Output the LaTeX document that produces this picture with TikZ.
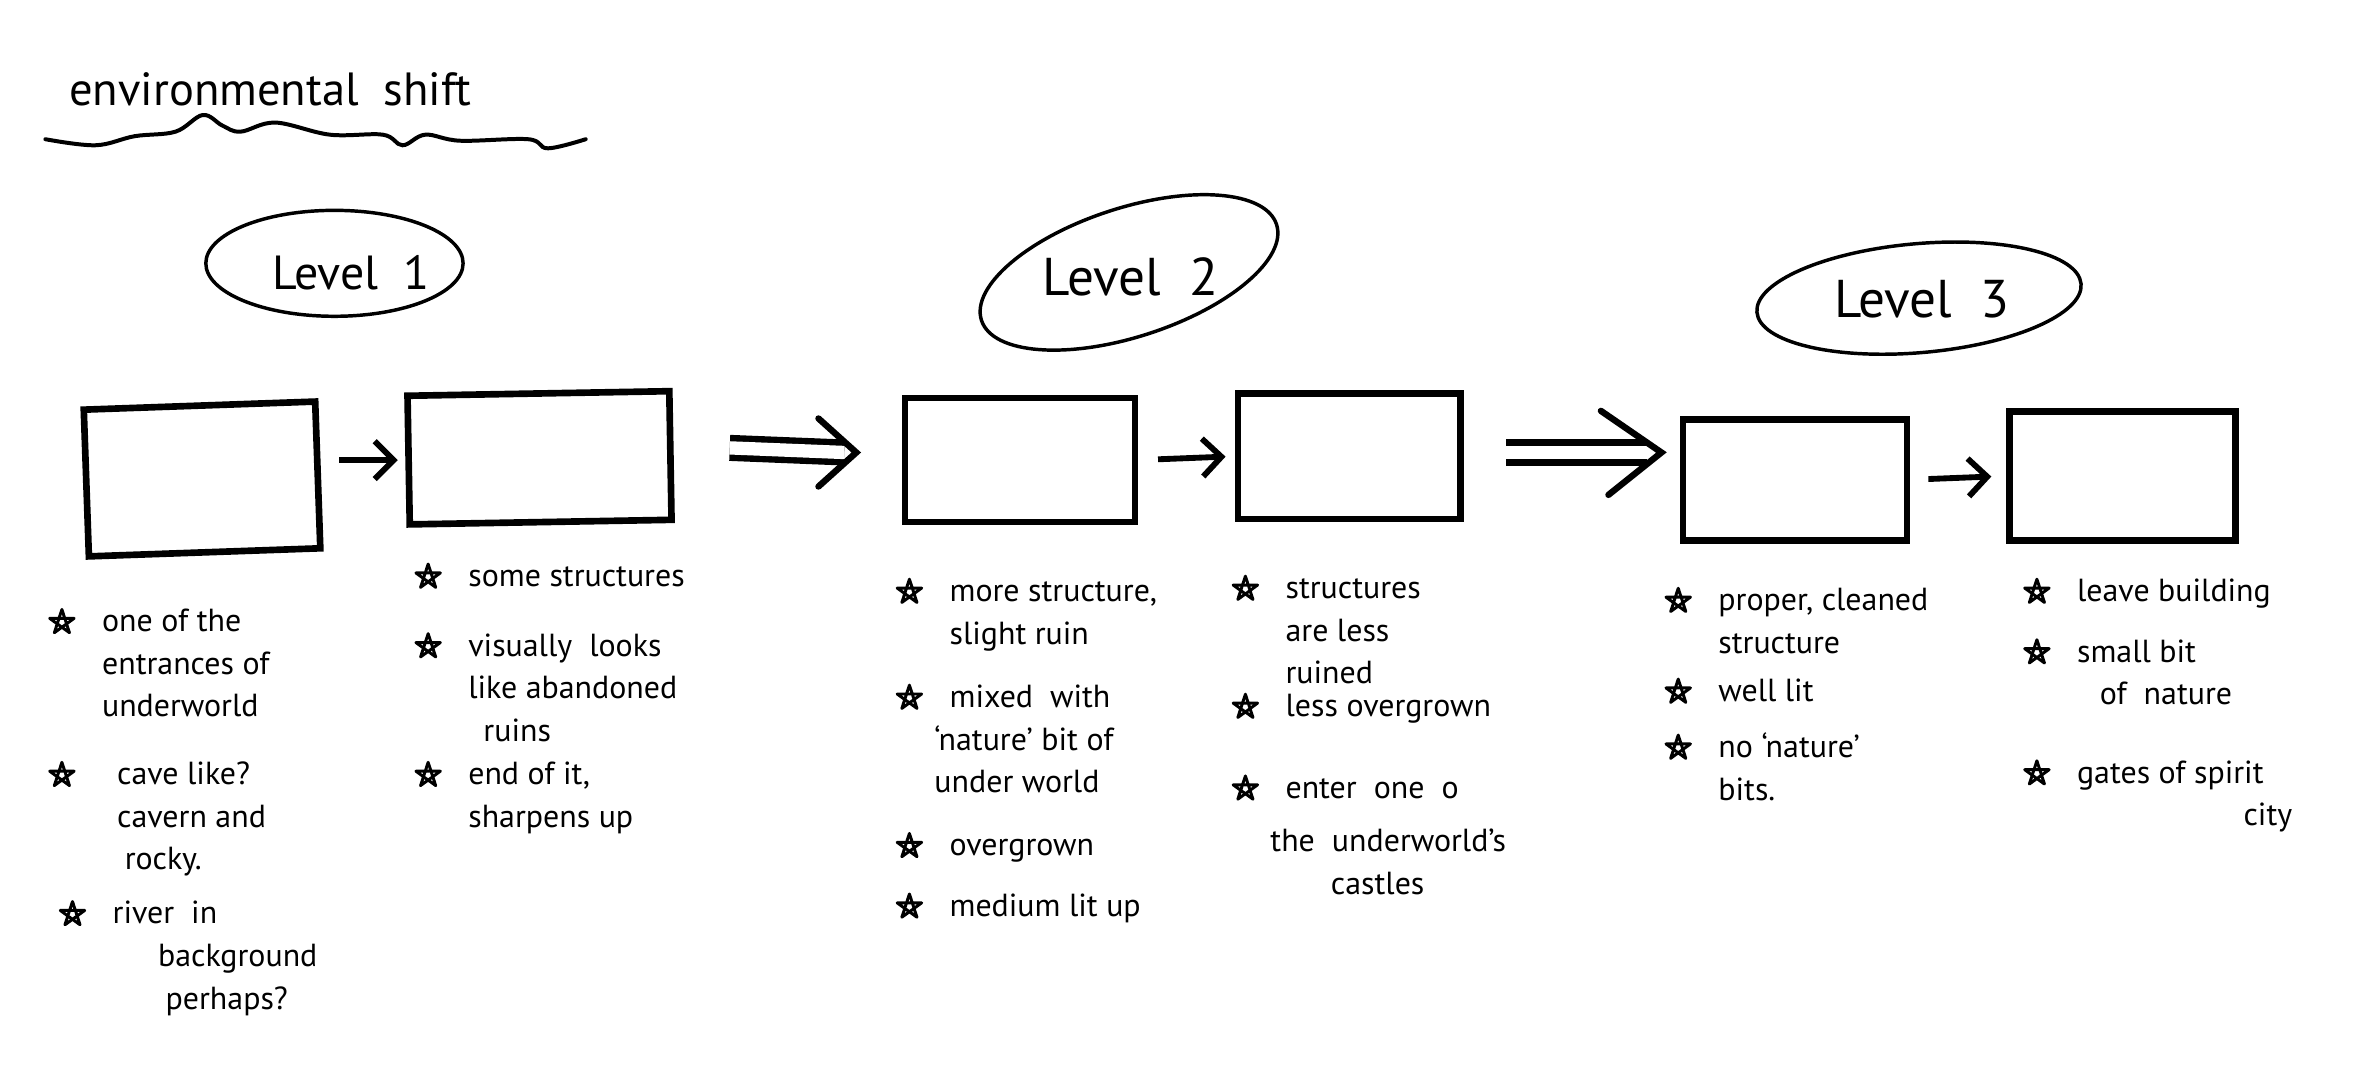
\documentclass[tikz,border=0pt]{standalone}
\usepackage{fontspec}
\setmainfont{PT Sans}
\usetikzlibrary{arrows.meta, calc}
\newcommand{\bul}{\tikz[baseline=-0.6ex]\draw[line width=1.1pt, line join=round] (90:1.7mm) -- (234:1.7mm) -- (18:1.7mm) -- (162:1.7mm) -- (306:1.7mm) -- cycle;}
\newcommand{\ind}[1]{\hspace*{#1}}

\tikzset{
  frame/.style={draw, line width=2.5pt, rectangle, inner sep=0pt},
  bubble/.style={line width=1.3pt},
  lvl/.style={font=\fontsize{20}{24}\selectfont},
  note/.style={anchor=north west, inner sep=0pt, font=\fontsize{12}{16}\selectfont},
  go/.style={line width=2.2pt, -{Straight Barb[length=2.5mm, width=5mm]}},
  rail/.style={double, double distance=5pt, line width=2.4pt},
  chev/.style={line width=2.4pt, line cap=round, line join=miter}
}

\begin{document}
\begin{tikzpicture}
    \useasboundingbox (0,0) rectangle (31.36,-14.088);

    % title
    \node[font=\fontsize{17.5}{21}\selectfont] (title) at (3.57,-1.18) {environmental\ \ shift};
    \draw[line width=1.5pt, line cap=round] plot[smooth, tension=0.6] coordinates {(0.6,-1.84) (1.26,-1.92) (1.78,-1.8) (2.32,-1.74) (2.68,-1.52) (2.94,-1.66) (3.18,-1.74) (3.64,-1.62) (4.36,-1.78) (5.06,-1.78) (5.32,-1.92) (5.62,-1.78) (6.08,-1.86) (6.98,-1.84) (7.24,-1.96) (7.74,-1.84)};

    % levels
    \node[lvl, font=\fontsize{18}{22}\selectfont] (lvlone) at (4.64,-3.6) {Level\ \ 1};
    \draw[bubble] (4.42,-3.48) ellipse [x radius=1.7, y radius=0.7];
    \node[lvl] (lvltwo) at (14.94,-3.66) {Level\ \ 2};
    \draw[bubble, rotate around={18:(14.92,-3.6)}] (14.92,-3.6) ellipse [x radius=2.05, y radius=0.85];
    \node[lvl] (lvlthree) at (25.4,-3.96) {Level\ \ 3};
    \draw[bubble, rotate around={5:(25.36,-3.94)}] (25.36,-3.94) ellipse [x radius=2.15, y radius=0.72];

    % boxes
    \node[frame, minimum width=3.06cm, minimum height=1.94cm, rotate=2] (b1) at (2.67,-6.33) {};
    \node[frame, minimum width=3.46cm, minimum height=1.7cm, rotate=1] (b2) at (7.13,-6.05) {};
    \node[frame, minimum width=3.04cm, minimum height=1.64cm] (b3) at (13.48,-6.08) {};
    \node[frame, minimum width=2.94cm, minimum height=1.66cm] (b4) at (17.83,-6.03) {};
    \node[frame, minimum width=2.96cm, minimum height=1.6cm] (b5) at (23.72,-6.34) {};
    \node[frame, minimum width=2.98cm, minimum height=1.7cm] (b6) at (28.05,-6.29) {};

    % arrows
    \draw[go, shorten <=0.24cm, shorten >=0.1cm] (b1.east |- b2.west) -- (b2.west);
    \draw[go, shorten <=0.26cm, shorten >=0.12cm] (b3.east) -- (b4.west);
    \draw[go, shorten <=0.24cm, shorten >=0.2cm] (b5.east) -- (b6.west);

    % double arrows between levels
    \coordinate (t23) at ($(b3.west)+(-0.6,0.1)$);
    \draw[rail] ($(b2.east)+(0.74,0.1)$) -- ([xshift=-1.6mm]t23);
    \draw[chev] ([shift={(-5mm,4.5mm)}]t23) -- (t23) -- ([shift={(-5mm,-4.5mm)}]t23);
    \coordinate (t45) at ($(b4.east -| b5.west)+(-0.24,0.05)$);
    \draw[rail] ($(b4.east)+(0.56,0.05)$) -- ([xshift=-1.9mm]t45);
    \draw[chev] ([shift={(-8mm,5.5mm)}]t45) -- (t45) -- ([shift={(-7mm,-5.6mm)}]t45);

    % notes, level 1
    \node[note] (n1a) at (0.63,-7.95) {\begin{tabular}{@{}l@{\hspace{3.5mm}}l@{}}\bul & one of the\\ & entrances of\\ & underworld\end{tabular}};
    \node[note] (n1b) at (0.63,-9.97) {\begin{tabular}{@{}l@{\hspace{3.5mm}}l@{}}\bul & \ind{2mm}cave like?\\ & \ind{2mm}cavern and\\ & \ind{3mm}rocky.\end{tabular}};
    \node[note] (n1c) at (0.77,-11.81) {\begin{tabular}{@{}l@{\hspace{3.5mm}}l@{}}\bul & river\ \ in\\ & \ind{6mm}background\\ & \ind{7mm}perhaps?\end{tabular}};
    \node[note] (n2a) at (5.47,-7.35) {\begin{tabular}{@{}l@{\hspace{3.5mm}}l@{}}\bul & some structures\end{tabular}};
    \node[note] (n2b) at (5.47,-8.27) {\begin{tabular}{@{}l@{\hspace{3.5mm}}l@{}}\bul & visually\ \ looks\\ & like abandoned\\ & \ind{2mm}ruins\end{tabular}};
    \node[note] (n2c) at (5.47,-9.97) {\begin{tabular}{@{}l@{\hspace{3.5mm}}l@{}}\bul & end of it,\\ & sharpens up\end{tabular}};

    % notes, level 2
    \node[note] (n3a) at (11.83,-7.55) {\begin{tabular}{@{}l@{\hspace{3.5mm}}l@{}}\bul & more structure,\\ & slight ruin\end{tabular}};
    \node[note] (n3b) at (11.83,-8.95) {\begin{tabular}{@{}l@{\hspace{3.5mm}}l@{}}\bul & mixed\ \ with\\ & \ind{-2mm}`nature' bit of\\ & \ind{-2mm}under world\end{tabular}};
    \node[note] (n3c) at (11.83,-10.91) {\begin{tabular}{@{}l@{\hspace{3.5mm}}l@{}}\bul & overgrown\end{tabular}};
    \node[note] (n3d) at (11.83,-11.71) {\begin{tabular}{@{}l@{\hspace{3.5mm}}l@{}}\bul & medium lit up\end{tabular}};
    \node[note] (n4a) at (16.27,-7.51) {\begin{tabular}{@{}l@{\hspace{3.5mm}}l@{}}\bul & structures\\ & are less\\ & ruined\end{tabular}};
    \node[note] (n4b) at (16.27,-9.07) {\begin{tabular}{@{}l@{\hspace{3.5mm}}l@{}}\bul & less overgrown\end{tabular}};
    \node[note] (n4c) at (16.27,-10.15) {\begin{tabular}{@{}l@{\hspace{3.5mm}}l@{}}\bul & enter\ \ one\ \ o\\[4pt] & \ind{-2mm}the\ \ underworld's\\ & \ind{6mm}castles\end{tabular}};

    % notes, level 3
    \node[note] (n5a) at (21.99,-7.67) {\begin{tabular}{@{}l@{\hspace{3.5mm}}l@{}}\bul & proper, cleaned\\ & structure\end{tabular}};
    \node[note] (n5b) at (21.99,-8.87) {\begin{tabular}{@{}l@{\hspace{3.5mm}}l@{}}\bul & well lit\end{tabular}};
    \node[note] (n5c) at (21.99,-9.61) {\begin{tabular}{@{}l@{\hspace{3.5mm}}l@{}}\bul & no `nature'\\ & bits.\end{tabular}};
    \node[note] (n6a) at (26.73,-7.55) {\begin{tabular}{@{}l@{\hspace{3.5mm}}l@{}}\bul & leave building\end{tabular}};
    \node[note] (n6b) at (26.73,-8.35) {\begin{tabular}{@{}l@{\hspace{3.5mm}}l@{}}\bul & small bit\\ & \ind{3mm}of\ \ nature\end{tabular}};
    \node[note] (n6c) at (26.73,-9.95) {\begin{tabular}{@{}l@{\hspace{3.5mm}}l@{}}\bul & gates of spirit\\ & \ind{22mm}city\end{tabular}};
\end{tikzpicture}
\end{document}
